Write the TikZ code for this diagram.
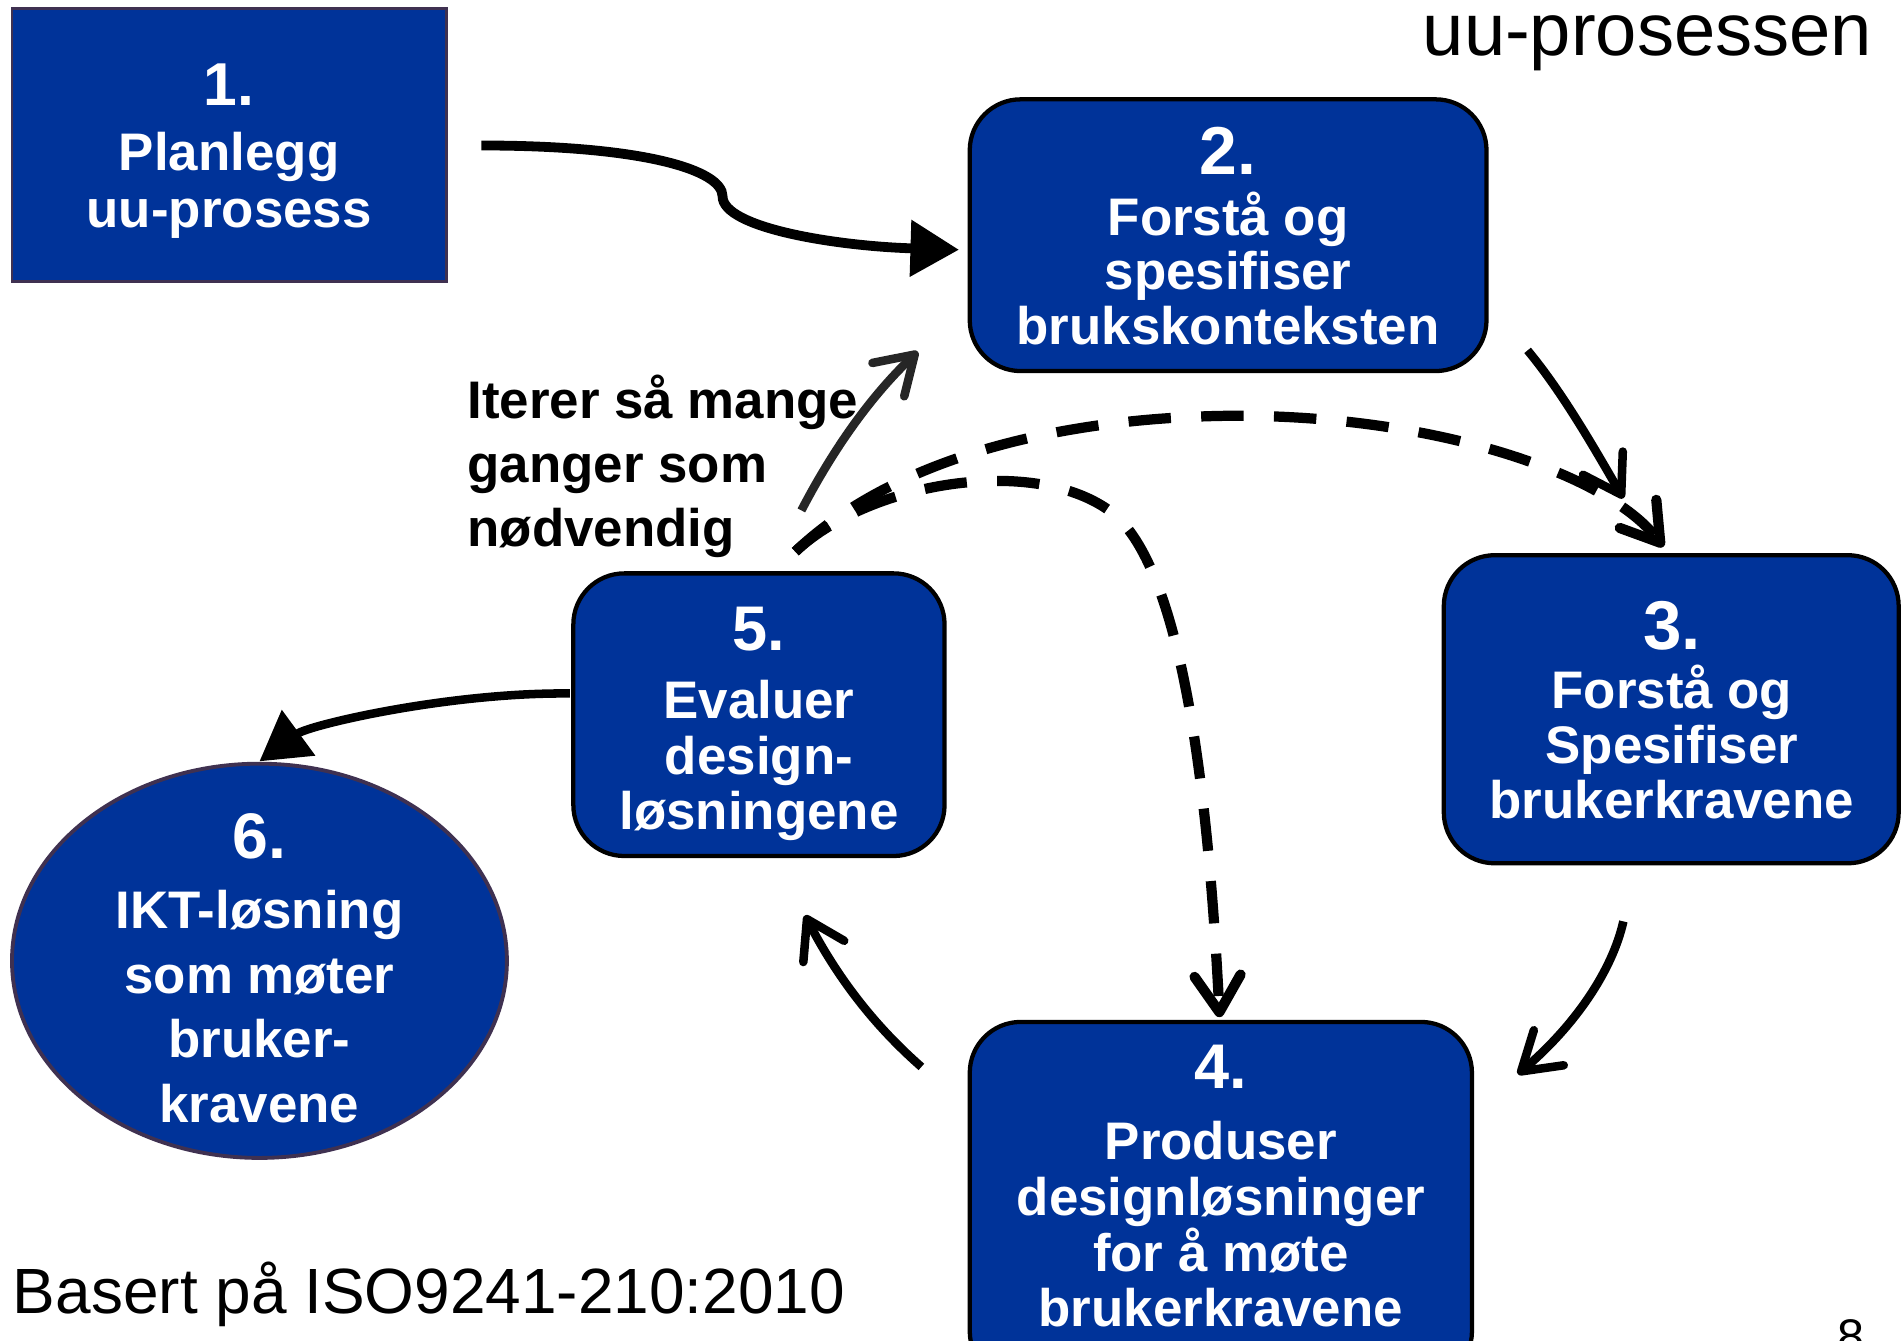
\documentclass[tikz,border=0pt]{standalone}
\usepackage{fontspec}
\setmainfont{Liberation Sans}
\usetikzlibrary{arrows.meta,shapes.geometric}
\definecolor{boxblue}{RGB}{0,51,153}
\definecolor{edgegray}{RGB}{63,49,81}
\tikzset{
  stepbox/.style={draw=black, line width=1pt, fill=boxblue, rounded corners=0.42cm, inner sep=0pt},
  plainbox/.style={draw=edgegray, line width=0.6pt, fill=boxblue, inner sep=0pt},
  endell/.style={ellipse, draw=edgegray, line width=0.9pt, fill=boxblue, inner sep=0pt},
  boxtext/.style={text=white, align=center, inner sep=0pt, anchor=north, font=\fontsize{12.4}{12.8}\selectfont\bfseries},
  flow/.style={line width=2pt, -{Straight Barb[length=0.3cm,width=0.38cm,round]}},
  bigflow/.style={line width=2.3pt, -{Triangle[length=0.4cm,width=0.45cm]}},
  loopflow/.style={line width=2.4pt, dash pattern=on 0.35cm off 0.25cm, -{Straight Barb[length=0.3cm,width=0.38cm,round]}},
}
\newcommand\stepnum[2]{{\fontsize{#1}{#1}\selectfont #2}}
\begin{document}
\begin{tikzpicture}[x=0.01cm,y=-0.01cm]
\clip (0,0) rectangle (1568,1106);
\fill[white] (0,0) rectangle (1568,1106);

% boxes
\node[plainbox, minimum width=3.58cm, minimum height=2.25cm] (b1) at (189,119.5) {};
\node[stepbox, minimum width=4.26cm, minimum height=2.24cm] (b2) at (1013,194) {};
\node[stepbox, minimum width=3.75cm, minimum height=2.54cm] (b3) at (1378.5,585) {};
\node[stepbox, minimum width=4.14cm, minimum height=2.97cm] (b4) at (1007,991.5) {};
\node[stepbox, minimum width=3.06cm, minimum height=2.33cm] (b5) at (626,589.5) {};
\node[endell, minimum width=4.08cm, minimum height=3.25cm] (b6) at (214,792.5) {};

% box texts
\node[boxtext, font=\fontsize{12.4}{13.4}\selectfont\bfseries] (t1) at (189,52) {\stepnum{14.2}{1.}\\[1.8pt] Planlegg\\ uu-prosess};
\node[boxtext] (t2) at (1013,104) {\stepnum{15.9}{2.}\\[1.5pt] Forstå og\\ spesifiser\\ brukskonteksten};
\node[boxtext] (t3) at (1379,495) {\stepnum{16.2}{3.}\\[1.2pt] Forstå og\\ Spesifiser\\ brukerkravene};
\node[boxtext, font=\fontsize{12.4}{13.1}\selectfont\bfseries] (t4) at (1007,861) {\stepnum{14.8}{4.}\\[3.6pt] Produser\\ designløsninger\\ for å møte\\ brukerkravene};
\node[boxtext, font=\fontsize{12.4}{13.0}\selectfont\bfseries] (t5) at (626,500) {\stepnum{14.8}{5.}\\[3pt] Evaluer\\ design-\\ løsningene};
\node[boxtext, font=\fontsize{12.4}{15.1}\selectfont\bfseries] (t6) at (214,670) {\stepnum{15.1}{6.}\\[1.5pt] IKT-løsning\\ som møter\\ bruker-\\ kravene};

% free texts
\node[font=\fontsize{12.4}{14.9}\selectfont\bfseries, align=left, anchor=north west, inner sep=0pt] (iter) at (385,309) {Iterer så mange\\ ganger som\\ nødvendig};
\node[font=\fontsize{17.4}{17.4}\selectfont, anchor=base east, inner sep=0pt] (title) at (1545,46) {uu-prosessen};
\node[font=\fontsize{15}{15}\selectfont, anchor=base west, inner sep=0pt] (src) at (10,1083) {Basert på ISO9241-210:2010};
\node[font=\fontsize{11.4}{11.4}\selectfont, anchor=base, inner sep=0pt] (page) at (1527,1116) {8};

% connector end points
\coordinate (c12a) at (397,120);
\coordinate (c12b) at (791,206);
\coordinate (c23a) at (1260,289);
\coordinate (c23b) at (1339,411);
\coordinate (c34a) at (1339,760);
\coordinate (c34b) at (1252,886);
\coordinate (c45a) at (760,880);
\coordinate (c45b) at (664,755);
\coordinate (c52a) at (661,421);
\coordinate (c52b) at (757,290);
\coordinate (c56a) at (470,572);
\coordinate (c56b) at (214,628);
\coordinate (cls) at (656,455);
\coordinate (cl3) at (1372,451);
\coordinate (cl4) at (1006,839);

% connectors
\draw[bigflow] (c12a) .. controls (530,120) and (596,140) .. (596,162) .. controls (596,188) and (690,203) .. (c12b);
\draw[flow] (c23a) .. controls (1290,325) and (1318,375) .. (c23b);
\draw[flow] (c34a) .. controls (1330,800) and (1300,845) .. (c34b);
\draw[flow] (c45a) .. controls (720,845) and (690,805) .. (c45b);
\draw[flow, draw=black!85] (c52a) .. controls (685,375) and (715,330) .. (c52b);
\draw[bigflow, line width=2pt] (c56a) .. controls (370,571) and (255,598) .. (c56b);
\draw[loopflow] (cls) .. controls (740,375) and (880,345) .. (1010,343) .. controls (1180,341) and (1325,390) .. (cl3);
\draw[loopflow] (cls) .. controls (720,395) and (860,375) .. (920,425) .. controls (970,470) and (995,620) .. (cl4);
\end{tikzpicture}
\end{document}
